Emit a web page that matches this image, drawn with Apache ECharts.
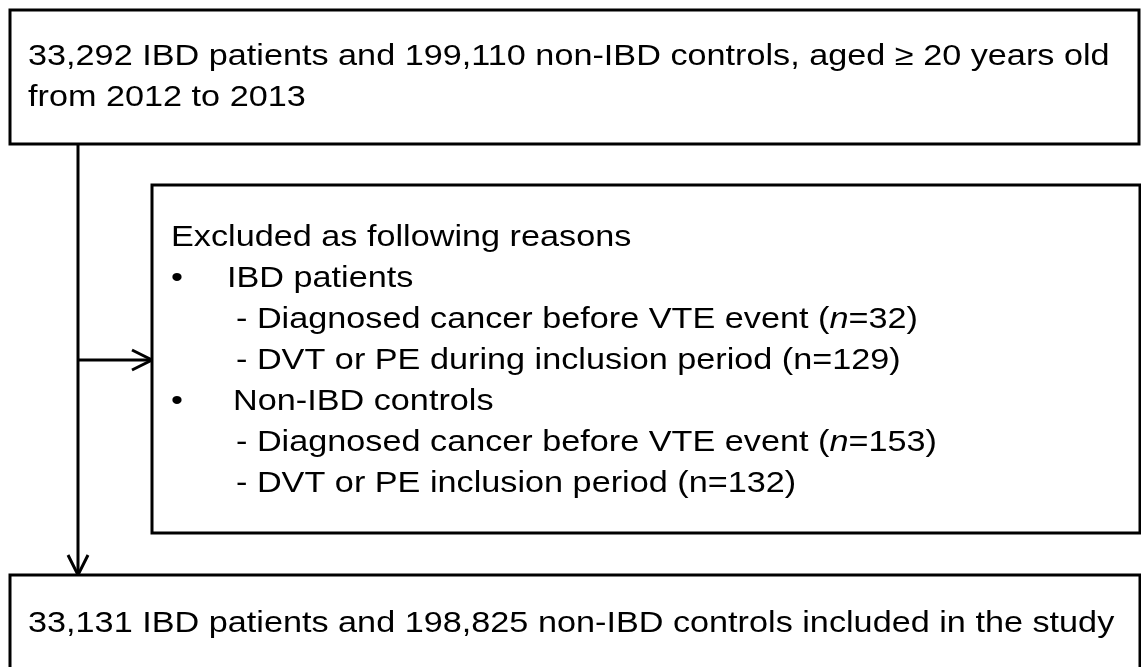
<!DOCTYPE html>
<html>
<head>
<meta charset="utf-8">
<script src="https://cdn.jsdelivr.net/npm/echarts@6/dist/echarts.min.js"></script>
<style>
  html, body { margin: 0; padding: 0; background: #fff; }
  #flow { width: 1141px; height: 667px; }
</style>
</head>
<body>
<div id="flow"></div>
<script>
// texts of the flow chart ({i|..} = italic)
const topLines = [
  '33,292 IBD patients and 199,110 non-IBD controls, aged \u2265 20 years old',
  'from 2012 to 2013'
];
const excludedLines = [
  'Excluded as following reasons',
  'IBD patients',
  '- Diagnosed cancer before VTE event ({i|n}=32)',
  '- DVT or PE during inclusion period (n=129)',
  'Non-IBD controls',
  '- Diagnosed cancer before VTE event ({i|n}=153)',
  '- DVT or PE inclusion period (n=132)'
];
const excludedBullets = [false, true, false, false, true, false, false];
const includedLines = [
  '33,131 IBD patients and 198,825 non-IBD controls included in the study'
];

// layout (pixel space of the hidden axes)
const boxRects = [
  [10, 10, 1139, 144],
  [152, 185, 1140, 533],
  [10, 575, 1140, 700]
];
const textStartY = [57, 238, 624];
const textIndentX = [
  [28, 28],
  [171, 227, 236, 236, 233, 236, 236],
  [28]
];
const lineStep = 41;

const boxTexts = [topLines, excludedLines, includedLines];
const fontFamily = '"Liberation Sans", Arial, sans-serif';
const fontSize = 29;
const stretchX = 1.18; // the source text is a little wider than plain Arial

function textEl(t, pt) {
  return {
    type: 'text',
    x: pt[0], y: pt[1],
    scaleX: stretchX,
    style: {
      text: t, x: 0, y: 0,
      fill: '#000', fontSize: fontSize, fontFamily: fontFamily,
      verticalAlign: 'middle', align: 'left',
      rich: {
        i: { fontStyle: 'italic', fontSize: fontSize, fontFamily: fontFamily, fill: '#000' }
      }
    }
  };
}

function boxItem(params, api) {
  const i = params.dataIndex;
  const r = boxRects[i];
  const p0 = api.coord([r[0], r[1]]);
  const p1 = api.coord([r[2], r[3]]);
  const children = [{
    type: 'rect',
    shape: { x: p0[0], y: p0[1], width: p1[0] - p0[0], height: p1[1] - p0[1] },
    style: { fill: '#fff', stroke: '#000', lineWidth: 3 }
  }];
  boxTexts[i].forEach((t, k) => {
    const y = textStartY[i] + k * lineStep;
    children.push(textEl(t, api.coord([textIndentX[i][k], y])));
    if (i === 1 && excludedBullets[k]) {
      children.push(textEl('\u2022', api.coord([171, y])));
    }
  });
  return { type: 'group', children: children };
}

// connectors: [x0, y0, x1, y1, arrow head]
const connectors = [
  [78, 144, 78, 575, 'down'],
  [78, 360, 152, 360, 'right']
];

function arrowItem(params, api) {
  const c = connectors[params.dataIndex];
  const a = api.coord([c[0], c[1]]);
  const b = api.coord([c[2], c[3]]);
  const h = 20, w = 10;
  let head;
  if (c[4] === 'down') {
    head = [[b[0] - w, b[1] - h], [b[0], b[1]], [b[0] + w, b[1] - h]];
  } else {
    head = [[b[0] - h, b[1] - w], [b[0], b[1]], [b[0] - h, b[1] + w]];
  }
  return {
    type: 'group',
    children: [
      { type: 'line', shape: { x1: a[0], y1: a[1], x2: b[0], y2: b[1] },
        style: { stroke: '#000', lineWidth: 3 } },
      { type: 'polyline', shape: { points: head },
        style: { stroke: '#000', lineWidth: 3, fill: null } }
    ]
  };
}

let myChart = echarts.init(document.getElementById('flow'));
let option = {
  backgroundColor: '#fff',
  animation: false,
  grid: { left: 0, right: 0, top: 0, bottom: 0 },
  xAxis: { type: 'value', min: 0, max: 1141, show: false },
  yAxis: { type: 'value', min: 0, max: 667, inverse: true, show: false },
  series: [
    {
      type: 'custom',
      renderItem: arrowItem,
      data: connectors.map((c, i) => [i]),
      clip: false,
      z: 1
    },
    {
      type: 'custom',
      renderItem: boxItem,
      data: boxRects.map((r, i) => [i]),
      clip: false,
      z: 2
    }
  ]
};
myChart.setOption(option);
window.onresize = myChart.resize;
</script>
</body>
</html>
